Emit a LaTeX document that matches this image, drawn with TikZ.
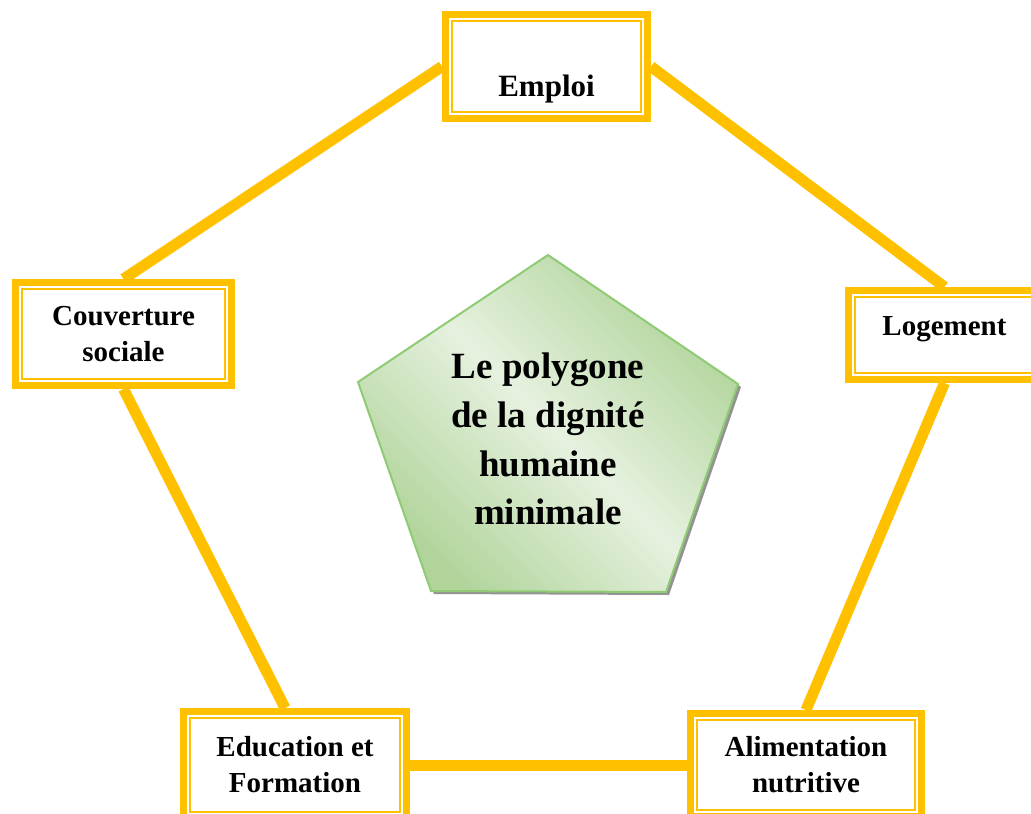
\documentclass[tikz,border=0pt]{standalone}
\usepackage{fontspec}
\setmainfont{Liberation Serif}
\usetikzlibrary{backgrounds}
\definecolor{FrameGold}{HTML}{FFC000}
\definecolor{LeafGreen}{HTML}{B0D49A}
\definecolor{PaleGreen}{HTML}{E6F1DF}
\definecolor{EdgeGreen}{HTML}{8FCB74}

\begin{document}
\begin{tikzpicture}[x=1pt, y=-1pt,
  pillar/.style={draw=FrameGold, line width=7pt, fill=white, inner sep=0pt, align=center,
    font=\fontsize{29}{36}\selectfont\bfseries,
    path picture={\draw[FrameGold, line width=2pt]
      ([shift={(6.5pt,-6.5pt)}]path picture bounding box.north west) rectangle
      ([shift={(-6.5pt,6.5pt)}]path picture bounding box.south east);}},
  link/.style={FrameGold, line width=11pt}]
  \clip (0,0) rectangle (1031,814);

  \fill[gray!85] (551,258) -- (741,387) -- (669,595) -- (434,594) -- (361,385) -- cycle;
  \draw[EdgeGreen, line width=2pt, top color=LeafGreen, bottom color=LeafGreen,
    middle color=PaleGreen, shading angle=-45]
    (548,255) -- (738,384) -- (666,592) -- (431,591) -- (358,382) -- cycle;
  \node[font=\fontsize{37}{48.7}\selectfont\bfseries, align=center, inner sep=0pt] (title)
    at (548,439) {Le polygone\\de la dignité\\humaine\\minimale};

  \node[pillar, minimum width=202pt, minimum height=104pt, font=\fontsize{31}{35}\selectfont\bfseries,
    text height=59pt, text depth=0pt] (emploi) at (546.5,66.5) {Emploi};
  \node[pillar, minimum width=216pt, minimum height=103pt, yshift=0pt] (couv) at (123.5,334) {Couverture\\sociale};
  \node[pillar, minimum width=192pt, minimum height=89pt, text height=20pt, text depth=20pt]
    (logement) at (944.5,335) {Logement};
  \node[pillar, minimum width=223pt, minimum height=107pt] (edu) at (295,765) {Education et\\Formation};
  \node[pillar, minimum width=231pt, minimum height=103pt] (alim) at (806,765) {Alimentation\\nutritive};

  \begin{scope}[on background layer]
    \draw[link] (emploi.west) -- (couv.north);
    \draw[link] (emploi.east) -- (logement.north);
    \draw[link] (logement.south) -- (alim.north);
    \draw[link] (alim.west) -- (edu.east);
    \draw[link] ([xshift=-10pt]edu.north) -- (couv.south);
  \end{scope}
\end{tikzpicture}
\end{document}
